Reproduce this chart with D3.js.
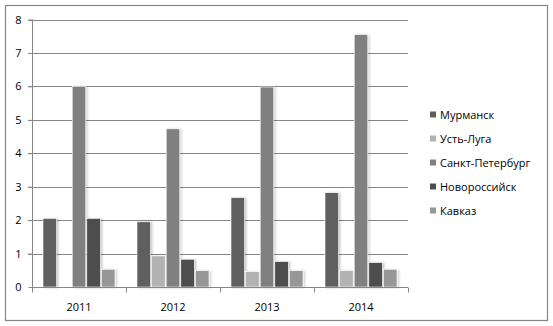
<!DOCTYPE html>
<html>
<head>
<meta charset="utf-8">
<script src="https://cdn.jsdelivr.net/npm/d3@7"></script>
<style>
  body { margin: 0; background: #fff; }
  text { font-family: "Open Sans", sans-serif; fill: #000; }
</style>
</head>
<body>
<div id="chart"></div>
<script>
// data
var years = ["2011", "2012", "2013", "2014"];
var ports = ["Мурманск", "Усть-Луга", "Санкт-Петербург", "Новороссийск", "Кавказ"];
var murmansk   = [2.05, 1.95, 2.67, 2.82];
var ustLuga    = [0,    0.93, 0.46, 0.49];
var spb        = [6.0,  4.73, 5.98, 7.55];
var novoross   = [2.05, 0.83, 0.76, 0.73];
var kavkaz     = [0.53, 0.49, 0.49, 0.53];
var yTicks = [0, 1, 2, 3, 4, 5, 6, 7, 8];
var colors = ["#5f5f5f", "#b3b3b3", "#808080", "#4d4d4d", "#979797"];

var series = [murmansk, ustLuga, spb, novoross, kavkaz];
var rows = [];
years.forEach(function(yr, i) {
    ports.forEach(function(p, j) {
        rows.push({year: yr, port: p, value: series[j][i], idx: j});
    });
});

var W = 553, H = 326;
var svg = d3.select("#chart").append("svg")
    .attr("width", W)
    .attr("height", H);

var defs = svg.append("defs");
var f = defs.append("filter").attr("id", "shadow")
    .attr("x", "-20%").attr("y", "-5%").attr("width", "160%").attr("height", "115%");
f.append("feDropShadow")
    .attr("dx", 1.5).attr("dy", 0.5)
    .attr("stdDeviation", 1)
    .attr("flood-color", "#000")
    .attr("flood-opacity", 0.22);

// outer frame
svg.append("rect")
    .attr("x", 5.5).attr("y", 5.5)
    .attr("width", 542).attr("height", 315)
    .attr("fill", "#fff")
    .attr("stroke", "#868686")
    .attr("stroke-width", 1.2);

var plotLeft = 32, plotRight = 408, plotTop = 19.5, plotBottom = 287;

var x0 = d3.scaleBand()
    .domain(years)
    .range([plotLeft, plotRight])
    .paddingInner(0.234)
    .paddingOuter(0.117);

var x1 = d3.scaleBand()
    .domain(ports)
    .range([0, x0.bandwidth()])
    .paddingInner(0.07);

var y = d3.scaleLinear()
    .domain([0, 8])
    .range([plotBottom, plotTop]);

// gridlines
svg.append("g")
    .selectAll("line")
    .data(yTicks.filter(function(d) { return d > 0; }))
    .enter()
    .append("line")
        .attr("x1", plotLeft - 4)
        .attr("x2", plotRight)
        .attr("y1", function(d) { return Math.round(y(d)) + 0.5; })
        .attr("y2", function(d) { return Math.round(y(d)) + 0.5; })
        .attr("stroke", "#868686")
        .attr("stroke-width", 1);

// bars
svg.append("g")
    .selectAll("rect")
    .data(rows.filter(function(d) { return d.value > 0; }))
    .enter()
    .append("rect")
        .attr("x", function(d) { return x0(d.year) + x1(d.port); })
        .attr("y", function(d) { return y(d.value); })
        .attr("width", x1.bandwidth())
        .attr("height", function(d) { return y(0) - y(d.value); })
        .attr("fill", function(d) { return colors[d.idx]; })
        .attr("stroke", "#fff")
        .attr("stroke-width", 0.6)
        .attr("filter", "url(#shadow)");

// y axis
var yAxis = svg.append("g")
    .attr("transform", "translate(" + (plotLeft + 0.5) + ",0)")
    .call(d3.axisLeft(y).tickValues(yTicks).tickSize(4).tickPadding(7).tickFormat(d3.format("d")));
yAxis.selectAll("path, line").attr("stroke", "#868686");
yAxis.selectAll("text").attr("font-size", 11).attr("font-family", "Open Sans, sans-serif").attr("fill", "#000");
yAxis.select(".domain").attr("d", "M0," + plotTop + "V" + plotBottom);

// x axis
var xAxisG = svg.append("g")
    .attr("transform", "translate(0," + (Math.round(plotBottom) + 0.5) + ")");
xAxisG.append("line")
    .attr("x1", plotLeft).attr("x2", plotRight)
    .attr("stroke", "#868686");
var bounds = years.map(function(d) { return x0(d) - x0.step() * x0.paddingInner() / 2; });
bounds.push(plotRight);
xAxisG.selectAll("line.tick")
    .data(bounds)
    .enter()
    .append("line")
        .attr("class", "tick")
        .attr("x1", function(d) { return Math.round(d) + 0.5; })
        .attr("x2", function(d) { return Math.round(d) + 0.5; })
        .attr("y1", 0).attr("y2", 5)
        .attr("stroke", "#868686");
xAxisG.selectAll("text")
    .data(years)
    .enter()
    .append("text")
        .attr("x", function(d) { return x0(d) + x0.bandwidth() / 2; })
        .attr("y", 23)
        .attr("text-anchor", "middle")
        .attr("font-size", 11)
        .text(function(d) { return d; });

// legend
var legend = svg.append("g")
    .selectAll("g")
    .data(ports)
    .enter()
    .append("g")
        .attr("transform", function(d, i) { return "translate(430," + (115 + i * 24) + ")"; });
legend.append("rect")
    .attr("x", 0).attr("y", -3.5)
    .attr("width", 6).attr("height", 6)
    .attr("fill", function(d, i) { return colors[i]; });
legend.append("text")
    .attr("x", 10)
    .attr("y", 0)
    .attr("dy", "0.35em")
    .attr("font-size", 11)
    .text(function(d) { return d; });
</script>
</body>
</html>
